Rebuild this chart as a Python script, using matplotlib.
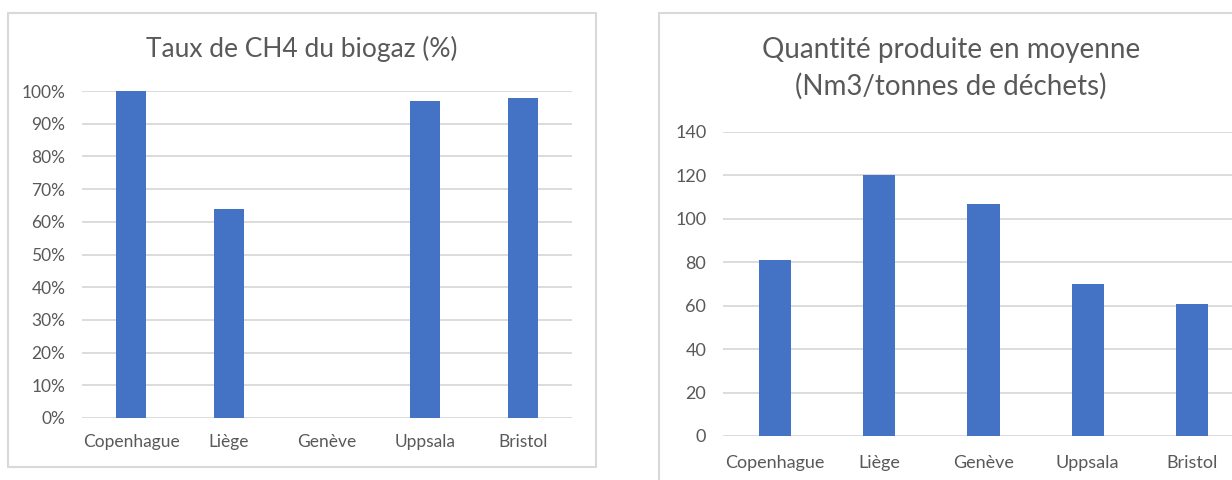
import matplotlib.pyplot as plt
from matplotlib.patches import Rectangle
import numpy as np

plt.rcParams['font.family'] = ['Lato', 'DejaVu Sans']

# Data
villes = ["Copenhague", "Liège", "Genève", "Uppsala", "Bristol"]
taux_ch4 = [1.00, 0.64, np.nan, 0.97, 0.98]      # fraction (Genève missing)
quantite = [81, 120, 107, 70, 61]                 # Nm3 / tonne de déchets

bar_color = "#4472C4"
grid_color = "#D9D9D9"
text_color = "#595959"

W, H = 1232, 480
fig = plt.figure(figsize=(W / 100, H / 100), dpi=100)


def px_axes(x0, y_top, x1, y_bot):
    return fig.add_axes([x0 / W, 1 - y_bot / H, (x1 - x0) / W, (y_bot - y_top) / H])


def style(ax, ymax, step, fmt, size, xpad):
    x = np.arange(len(villes))
    ax.set_xlim(-0.5, len(villes) - 0.5)
    ax.set_ylim(0, ymax)
    ax.set_yticks(np.arange(0, ymax + step / 2, step))
    ax.yaxis.set_major_formatter(plt.FuncFormatter(fmt))
    ax.set_xticks(x)
    ax.set_xticklabels(villes)
    ax.grid(axis="y", color=grid_color, linewidth=1.3)
    ax.set_axisbelow(True)
    for s in ax.spines.values():
        s.set_visible(False)
    ax.tick_params(length=0, colors=text_color, labelsize=size)
    ax.tick_params(axis="y", pad=12)
    ax.tick_params(axis="x", pad=xpad)


# chart frames
fig.patches.append(Rectangle((8 / W, 1 - 467 / H), 588 / W, 454 / H, transform=fig.transFigure,
                             fill=False, edgecolor=grid_color, linewidth=1.5))
fig.patches.append(Rectangle((659 / W, -0.1), 700 / W, 1.1 - 13 / H, transform=fig.transFigure,
                             fill=False, edgecolor=grid_color, linewidth=1.5))

# Left chart
ax1 = px_axes(82, 91, 572, 418)
ax1.bar(np.arange(len(villes)), taux_ch4, width=0.31, color=bar_color)
style(ax1, 1.0, 0.1, lambda v, p: f"{v * 100:.0f}%", 12.5, 11.5)
fig.text(302 / W, 1 - 49 / H, "Taux de CH4 du biogaz (%)", ha="center", va="center",
         fontsize=19, color=text_color)

# Right chart
ax2 = px_axes(723, 132, 1244, 436)
ax2.bar(np.arange(len(villes)), quantite, width=0.31, color=bar_color)
style(ax2, 140, 20, lambda v, p: f"{v:.0f}", 13, 13.5)
fig.text(951 / W, 1 - 68.5 / H, "Quantité produite en moyenne\n(Nm3/tonnes de déchets)",
         ha="center", va="center", fontsize=20, color=text_color, linespacing=1.48)

fig.savefig("out.png", dpi=100)
